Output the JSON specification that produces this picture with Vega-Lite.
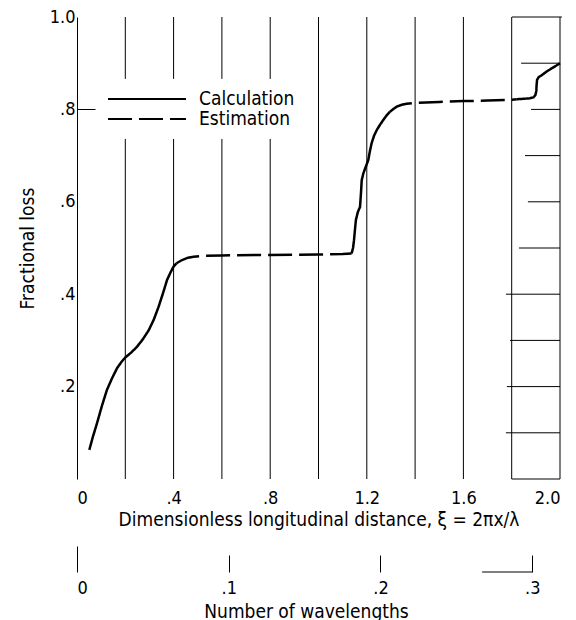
{
  "$schema": "https://vega.github.io/schema/vega-lite/v6.json",
  "width": 483,
  "height": 462,
  "padding": {"left": 18, "top": 8, "right": 10, "bottom": 0},
  "config": {
    "font": "DejaVu Sans Condensed",
    "view": {"stroke": null},
    "axis": {"grid": false, "labelColor": "black", "titleColor": "black", "labelFontSize": 18, "titleFontSize": 19, "titleFontWeight": "normal", "domainColor": "black", "tickColor": "black"}
  },
  "datasets": {
    "curve": [
      {"series": "Calculation", "seg": 1, "xi": 0.051, "loss": 0.063},
      {"series": "Calculation", "seg": 1, "xi": 0.065, "loss": 0.09},
      {"series": "Calculation", "seg": 1, "xi": 0.083, "loss": 0.121},
      {"series": "Calculation", "seg": 1, "xi": 0.103, "loss": 0.158},
      {"series": "Calculation", "seg": 1, "xi": 0.124, "loss": 0.193},
      {"series": "Calculation", "seg": 1, "xi": 0.145, "loss": 0.218},
      {"series": "Calculation", "seg": 1, "xi": 0.166, "loss": 0.24},
      {"series": "Calculation", "seg": 1, "xi": 0.185, "loss": 0.254},
      {"series": "Calculation", "seg": 1, "xi": 0.2, "loss": 0.263},
      {"series": "Calculation", "seg": 1, "xi": 0.225, "loss": 0.274},
      {"series": "Calculation", "seg": 1, "xi": 0.248, "loss": 0.286},
      {"series": "Calculation", "seg": 1, "xi": 0.272, "loss": 0.302},
      {"series": "Calculation", "seg": 1, "xi": 0.297, "loss": 0.322},
      {"series": "Calculation", "seg": 1, "xi": 0.318, "loss": 0.345},
      {"series": "Calculation", "seg": 1, "xi": 0.338, "loss": 0.373},
      {"series": "Calculation", "seg": 1, "xi": 0.356, "loss": 0.402},
      {"series": "Calculation", "seg": 1, "xi": 0.373, "loss": 0.431},
      {"series": "Calculation", "seg": 1, "xi": 0.388, "loss": 0.448},
      {"series": "Calculation", "seg": 1, "xi": 0.4, "loss": 0.46},
      {"series": "Calculation", "seg": 1, "xi": 0.412, "loss": 0.467},
      {"series": "Estimation", "seg": 2, "xi": 0.412, "loss": 0.467},
      {"series": "Estimation", "seg": 2, "xi": 0.435, "loss": 0.474},
      {"series": "Estimation", "seg": 2, "xi": 0.46, "loss": 0.479},
      {"series": "Estimation", "seg": 2, "xi": 0.483, "loss": 0.481},
      {"series": "Estimation", "seg": 2, "xi": 0.53, "loss": 0.483},
      {"series": "Estimation", "seg": 2, "xi": 0.6, "loss": 0.484},
      {"series": "Estimation", "seg": 2, "xi": 0.8, "loss": 0.485},
      {"series": "Estimation", "seg": 2, "xi": 1.0, "loss": 0.486},
      {"series": "Estimation", "seg": 2, "xi": 1.1, "loss": 0.487},
      {"series": "Estimation", "seg": 2, "xi": 1.137, "loss": 0.488},
      {"series": "Calculation", "seg": 3, "xi": 1.137, "loss": 0.488},
      {"series": "Calculation", "seg": 3, "xi": 1.143, "loss": 0.5},
      {"series": "Calculation", "seg": 3, "xi": 1.147, "loss": 0.517},
      {"series": "Calculation", "seg": 3, "xi": 1.151, "loss": 0.54},
      {"series": "Calculation", "seg": 3, "xi": 1.155, "loss": 0.561},
      {"series": "Calculation", "seg": 3, "xi": 1.163, "loss": 0.578},
      {"series": "Calculation", "seg": 3, "xi": 1.172, "loss": 0.589},
      {"series": "Calculation", "seg": 3, "xi": 1.176, "loss": 0.62},
      {"series": "Calculation", "seg": 3, "xi": 1.179, "loss": 0.647},
      {"series": "Calculation", "seg": 3, "xi": 1.186, "loss": 0.662},
      {"series": "Calculation", "seg": 3, "xi": 1.193, "loss": 0.672},
      {"series": "Calculation", "seg": 3, "xi": 1.206, "loss": 0.69},
      {"series": "Calculation", "seg": 3, "xi": 1.213, "loss": 0.71},
      {"series": "Calculation", "seg": 3, "xi": 1.22, "loss": 0.727},
      {"series": "Calculation", "seg": 3, "xi": 1.23, "loss": 0.743},
      {"series": "Calculation", "seg": 3, "xi": 1.241, "loss": 0.755},
      {"series": "Calculation", "seg": 3, "xi": 1.255, "loss": 0.767},
      {"series": "Calculation", "seg": 3, "xi": 1.268, "loss": 0.777},
      {"series": "Calculation", "seg": 3, "xi": 1.282, "loss": 0.787},
      {"series": "Calculation", "seg": 3, "xi": 1.296, "loss": 0.795},
      {"series": "Estimation", "seg": 4, "xi": 1.296, "loss": 0.795},
      {"series": "Estimation", "seg": 4, "xi": 1.31, "loss": 0.801},
      {"series": "Estimation", "seg": 4, "xi": 1.324, "loss": 0.806},
      {"series": "Estimation", "seg": 4, "xi": 1.345, "loss": 0.81},
      {"series": "Estimation", "seg": 4, "xi": 1.365, "loss": 0.812},
      {"series": "Estimation", "seg": 4, "xi": 1.4, "loss": 0.814},
      {"series": "Estimation", "seg": 4, "xi": 1.5, "loss": 0.816},
      {"series": "Estimation", "seg": 4, "xi": 1.6, "loss": 0.818},
      {"series": "Estimation", "seg": 4, "xi": 1.7, "loss": 0.819},
      {"series": "Estimation", "seg": 4, "xi": 1.8, "loss": 0.821},
      {"series": "Estimation", "seg": 4, "xi": 1.821, "loss": 0.822},
      {"series": "Calculation", "seg": 5, "xi": 1.821, "loss": 0.822},
      {"series": "Calculation", "seg": 5, "xi": 1.85, "loss": 0.823},
      {"series": "Calculation", "seg": 5, "xi": 1.875, "loss": 0.824},
      {"series": "Calculation", "seg": 5, "xi": 1.89, "loss": 0.826},
      {"series": "Calculation", "seg": 5, "xi": 1.898, "loss": 0.831},
      {"series": "Calculation", "seg": 5, "xi": 1.902, "loss": 0.84},
      {"series": "Calculation", "seg": 5, "xi": 1.903, "loss": 0.852},
      {"series": "Calculation", "seg": 5, "xi": 1.905, "loss": 0.864},
      {"series": "Calculation", "seg": 5, "xi": 1.912, "loss": 0.87},
      {"series": "Calculation", "seg": 5, "xi": 1.924, "loss": 0.874},
      {"series": "Calculation", "seg": 5, "xi": 1.945, "loss": 0.882},
      {"series": "Calculation", "seg": 5, "xi": 1.966, "loss": 0.889},
      {"series": "Calculation", "seg": 5, "xi": 1.985, "loss": 0.895},
      {"series": "Calculation", "seg": 5, "xi": 2.0, "loss": 0.9}
    ],
    "vgrid": [
      {"xi": 0.2, "y1": 0, "y2": 0.736}, {"xi": 0.2, "y1": 0.866, "y2": 1},
      {"xi": 0.4, "y1": 0, "y2": 0.736}, {"xi": 0.4, "y1": 0.866, "y2": 1},
      {"xi": 0.6, "y1": 0, "y2": 0.736}, {"xi": 0.6, "y1": 0.866, "y2": 1},
      {"xi": 0.8, "y1": 0, "y2": 0.736}, {"xi": 0.8, "y1": 0.866, "y2": 1},
      {"xi": 1.0, "y1": 0, "y2": 1},
      {"xi": 1.2, "y1": 0, "y2": 1},
      {"xi": 1.4, "y1": 0, "y2": 1},
      {"xi": 1.6, "y1": 0, "y2": 1},
      {"xi": 1.8, "y1": 0, "y2": 1},
      {"xi": 2.0, "y1": 0, "y2": 1}
    ],
    "hbox": [
      {"yv": 1.0, "x1": 1.801, "x2": 2.008},
      {"yv": 0.9, "x1": 1.839, "x2": 2.0},
      {"yv": 0.8, "x1": 1.88, "x2": 2.0},
      {"yv": 0.7, "x1": 1.855, "x2": 2.0},
      {"yv": 0.6, "x1": 1.867, "x2": 2.0},
      {"yv": 0.5, "x1": 1.83, "x2": 2.0},
      {"yv": 0.4, "x1": 1.776, "x2": 2.0},
      {"yv": 0.3, "x1": 1.793, "x2": 2.0},
      {"yv": 0.2, "x1": 1.78, "x2": 2.0},
      {"yv": 0.1, "x1": 1.776, "x2": 2.0},
      {"yv": 0.0, "x1": 1.8, "x2": 2.0}
    ],
    "wavetick": [{"w": 0.267, "w2": 0.3}]
  },
  "layer": [
    {
      "layer": [
        {
          "data": {"name": "vgrid"},
          "mark": {"type": "rule", "color": "black", "strokeWidth": 1},
          "encoding": {
            "x": {"field": "xi", "type": "quantitative", "scale": {"domain": [0, 2]},
              "axis": {"values": [0, 0.4, 0.8, 1.2, 1.6, 2.0], "ticks": false, "domain": false, "labelPadding": 10,
                "labelExpr": "datum.value == 0 ? '0' : (datum.value < 1 ? replace(format(datum.value, '.1f'), '0.', '.') : format(datum.value, '.1f'))",
                "titlePadding": 3},
              "title": "Dimensionless longitudinal distance, ξ = 2πx/λ"},
            "y": {"field": "y1", "type": "quantitative", "scale": {"domain": [0, 1]},
              "axis": {"values": [0.2, 0.4, 0.6, 0.8, 1.0], "tickSize": -18, "labelPadding": 20,
                "tickOpacity": {"condition": {"test": "datum.value === 0.8", "value": 1}, "value": 0},
                "labelExpr": "datum.value == 1 ? '1.0' : replace(format(datum.value, '.1f'), '0.', '.')",
                "titlePadding": 12},
              "title": "Fractional loss"},
            "y2": {"field": "y2"}
          }
        },
        {
          "data": {"name": "hbox"},
          "mark": {"type": "rule", "color": "black", "strokeWidth": 1},
          "encoding": {
            "x": {"field": "x1", "type": "quantitative", "scale": {"domain": [0, 2]}, "title": "Dimensionless longitudinal distance, ξ = 2πx/λ"},
            "x2": {"field": "x2"},
            "y": {"field": "yv", "type": "quantitative", "scale": {"domain": [0, 1]}, "title": "Fractional loss"}
          }
        },
        {
          "data": {"name": "curve"},
          "mark": {"type": "line", "color": "black", "strokeWidth": 2.5},
          "encoding": {
            "x": {"field": "xi", "type": "quantitative", "scale": {"domain": [0, 2]}, "title": "Dimensionless longitudinal distance, ξ = 2πx/λ"},
            "y": {"field": "loss", "type": "quantitative", "scale": {"domain": [0, 1]}, "title": "Fractional loss"},
            "detail": {"field": "seg", "type": "nominal"},
            "strokeDash": {"field": "series", "type": "nominal",
              "scale": {"domain": ["Calculation", "Estimation"], "range": [[1, 0], [24, 7]]},
              "legend": {"title": null, "orient": "none", "legendX": 30, "legendY": 72, "symbolType": "stroke",
                "symbolSize": 6084, "symbolStrokeWidth": 2, "symbolStrokeColor": "black", "clipHeight": 20,
                "rowPadding": 0, "labelFontSize": 19, "labelOffset": 12, "labelColor": "black", "padding": 0,
                "encode": {"symbols": {"update": {"strokeDash": {"signal": "datum.value === 'Estimation' ? [34, 9] : [1, 0]"}}}}}}
          }
        }
      ]
    },
    {
      "data": {"name": "wavetick"},
      "mark": {"type": "rule", "color": "black", "strokeWidth": 1},
      "encoding": {
        "x": {"field": "w", "type": "quantitative", "scale": {"domain": [0, 0.31831]},
          "axis": {"orient": "bottom", "offset": 93, "values": [0, 0.1, 0.2, 0.3], "domain": false,
            "tickSize": {"condition": {"test": "datum.value === 0", "value": -26}, "value": -17},
            "labelPadding": {"condition": {"test": "datum.value === 0", "value": 33}, "value": 24},
            "labelExpr": "datum.value == 0 ? '0' : replace(format(datum.value, '.1f'), '0.', '.')",
            "titlePadding": 5, "titleX": 229},
          "title": "Number of wavelengths"},
        "x2": {"field": "w2"},
        "y": {"datum": -0.2013, "type": "quantitative", "scale": {"domain": [0, 1]}, "title": "Fractional loss"}
      }
    }
  ],
  "resolve": {"scale": {"x": "independent"}}
}
